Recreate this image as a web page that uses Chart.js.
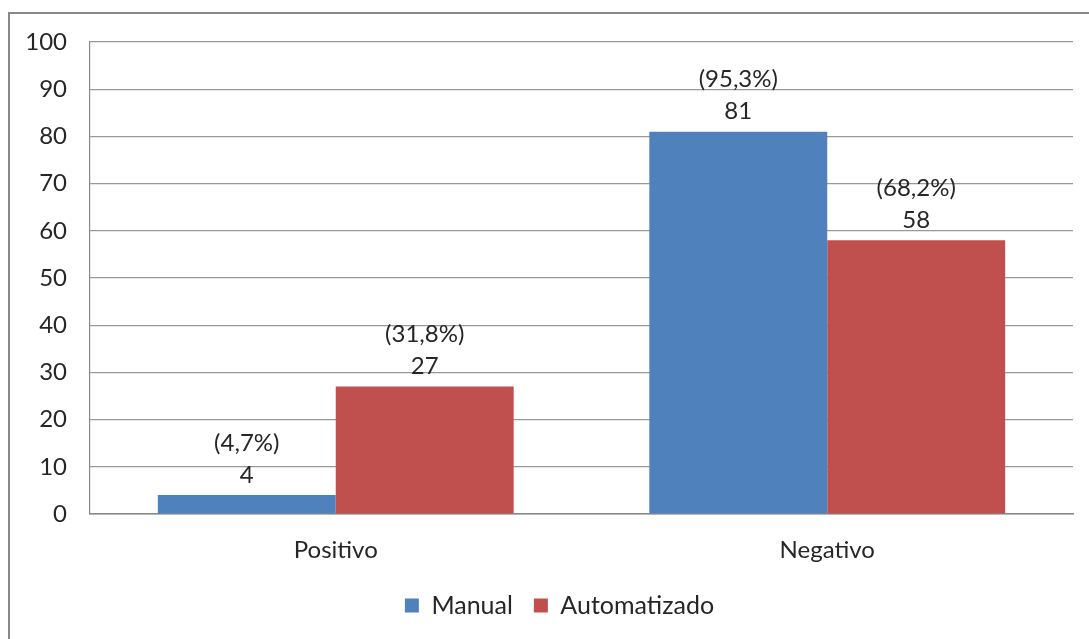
<!DOCTYPE html>
<html><head><meta charset="utf-8">
<script src="https://cdn.jsdelivr.net/npm/chart.js@4.4.0/dist/chart.umd.min.js"></script>
<style>html,body{margin:0;padding:0;background:#fff;}#wrap{width:1089px;height:639px;position:relative;}</style>
</head><body><div id="wrap"><canvas id="c" width="1089" height="639"></canvas></div>
<script>
const categories = ['Positivo', 'Negativo'];
const manualValues = [4, 81];
const autoValues = [27, 58];
const manualPercents = ['(4,7%)', '(95,3%)'];
const autoPercents = ['(31,8%)', '(68,2%)'];
const yTicks = [0, 10, 20, 30, 40, 50, 60, 70, 80, 90, 100];

const FONT = 'Lato, "Open Sans", sans-serif';
const TXT = '#262626';

const framePlugin = {
  id: 'frame',
  beforeDraw(chart) {
    const ctx = chart.ctx;
    ctx.save();
    ctx.strokeStyle = '#888888';
    ctx.lineWidth = 2;
    ctx.beginPath();
    ctx.moveTo(9, 639);
    ctx.lineTo(9, 13);
    ctx.lineTo(1089, 13);
    ctx.stroke();
    ctx.restore();
  }
};

const legendShift = {
  id: 'legendShift',
  afterLayout(chart) {
    if (chart.legend) {
      chart.legend.left += 23;
      chart.legend.right += 23;
    }
  }
};

const labelPlugin = {
  id: 'valLabels',
  afterDatasetsDraw(chart) {
    const ctx = chart.ctx;
    ctx.save();
    ctx.font = '24px ' + FONT;
    ctx.fillStyle = TXT;
    ctx.textAlign = 'center';
    ctx.textBaseline = 'middle';
    chart.data.datasets.forEach((ds, di) => {
      const meta = chart.getDatasetMeta(di);
      meta.data.forEach((bar, i) => {
        const y = bar.y;
        ctx.fillText(String(ds.data[i]), bar.x, y - 20);
        ctx.fillText(ds.percents[i], bar.x, y - 52);
      });
    });
    ctx.restore();
  }
};

new Chart(document.getElementById('c'), {
  type: 'bar',
  data: {
    labels: categories,
    datasets: [
      { label: 'Manual', data: manualValues, percents: manualPercents, backgroundColor: '#4F81BD', borderWidth: 0 },
      { label: 'Automatizado', data: autoValues, percents: autoPercents, backgroundColor: '#C0504D', borderWidth: 0 }
    ]
  },
  options: {
    responsive: false,
    animation: false,
    devicePixelRatio: 1,
    layout: { padding: { top: 42, right: 16, left: 0, bottom: 11 } },
    datasets: { bar: { barPercentage: 1.0, categoryPercentage: 0.724 } },
    plugins: {
      legend: {
        position: 'bottom',
        labels: {
          font: { family: FONT, size: 25 },
          color: TXT,
          boxWidth: 14, boxHeight: 14,
          padding: 21
        }
      },
      tooltip: { enabled: false }
    },
    scales: {
      x: {
        grid: { display: false, drawTicks: false },
        border: { color: '#888888', width: 1.5 },
        ticks: { font: { family: FONT, size: 24 }, color: TXT, padding: 22 },
        afterFit(s) { s.height = 58; }
      },
      y: {
        min: 0, max: 100,
        afterBuildTicks(s) { s.ticks = yTicks.map(v => ({ value: v })); },
        grid: { color: '#999999', lineWidth: 1.2, drawTicks: false },
        border: { color: '#888888', width: 1.2 },
        ticks: { font: { family: FONT, size: 24 }, color: TXT, padding: 23 },
        afterFit(s) { s.width = 90; }
      }
    }
  },
  plugins: [framePlugin, legendShift, labelPlugin]
});
</script></body></html>
